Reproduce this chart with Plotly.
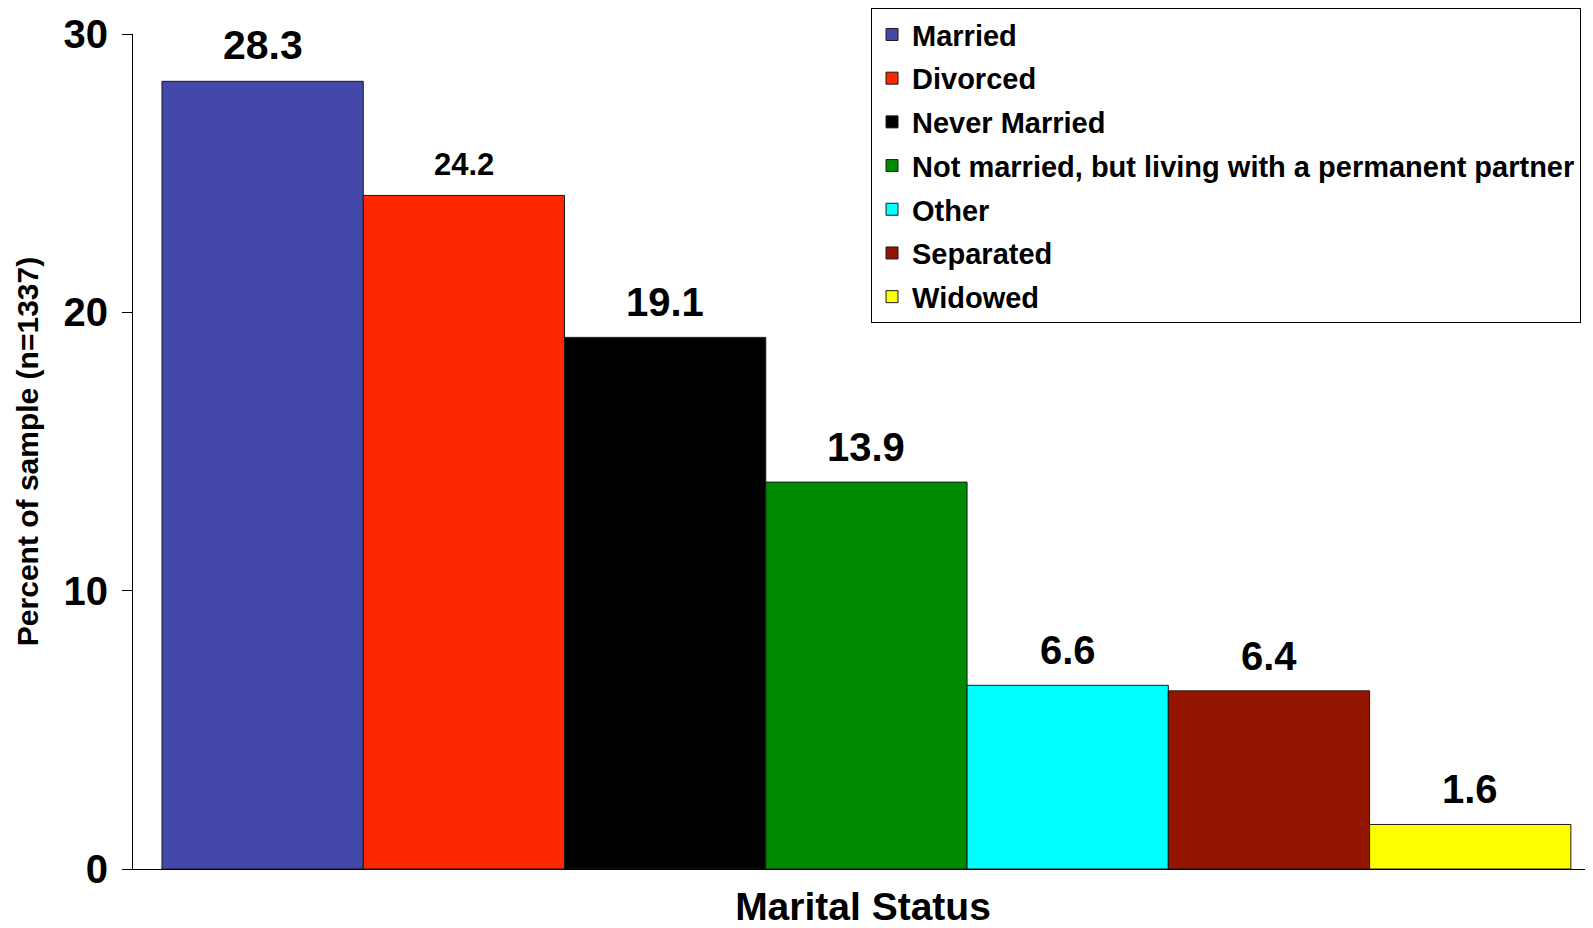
import plotly.graph_objects as go

# Marital status breakdown, percent of sample (n=1337)
categories = ["Married", "Divorced", "Never Married",
              "Not married, but living with a permanent partner",
              "Other", "Separated", "Widowed"]
percent = [28.3, 24.2, 19.1, 13.9, 6.6, 6.4, 1.6]
y_ticks = [0, 10, 20, 30]

colors = ["#4448A8", "#FF2700", "#000000", "#008A00", "#00FFFF", "#931500", "#FFFF00"]
label_sizes = [41, 31, 40, 40, 40, 40, 40]

FONT = "Liberation Sans, Arial, Helvetica, sans-serif"
X_RANGE = [-0.644, 6.61]

fig = go.Figure()
for i, (cat, val) in enumerate(zip(categories, percent)):
    fig.add_trace(go.Bar(
        x=[cat], y=[val], name=cat, width=1,
        legendgroup=cat,
        marker=dict(color=colors[i], line=dict(color="#1a1a1a", width=1)),
        hoverinfo="x+y",
    ))
    fig.add_annotation(
        x=cat, y=val, text=f"{val:.1f}", showarrow=False,
        yanchor="bottom", yshift=11,
        font=dict(family=FONT, size=label_sizes[i], color="black", weight="bold"),
    )

# page has an 8px body margin, so the figure is sized to fit the window
fig.update_layout(
    width=1585, height=920,
    barmode="overlay",
    plot_bgcolor="white", paper_bgcolor="white",
    margin=dict(l=125, r=0, t=26, b=59, autoexpand=False),
    font=dict(family=FONT, color="black"),
    showlegend=True,
    legend=dict(
        x=0.5055, y=1.031, xanchor="left", yanchor="top",
        bgcolor="white", bordercolor="black", borderwidth=1,
        font=dict(family=FONT, size=29, color="black", weight="bold"),
        tracegroupgap=3, itemclick=False,
    ),
    xaxis=dict(
        type="category", range=X_RANGE,
        showticklabels=False, showgrid=False, zeroline=False,
        showline=True, linecolor="black", linewidth=1,
        ticks="",
        title=dict(text="Marital Status", standoff=26,
                   font=dict(family=FONT, size=39, color="black", weight="bold")),
    ),
    yaxis=dict(
        range=[0, 30], tickvals=y_ticks,
        showgrid=False, zeroline=False,
        showline=True, linecolor="black", linewidth=1,
        ticks="outside", ticklen=10, tickcolor="black", tickwidth=1,
        ticklabelstandoff=6,
        tickfont=dict(family=FONT, size=40, color="black", weight="bold"),
        title=dict(text="Percent of sample (n=1337)", standoff=16,
                   font=dict(family=FONT, size=30, color="black", weight="bold")),
    ),
)

fig.write_html("out.html")
